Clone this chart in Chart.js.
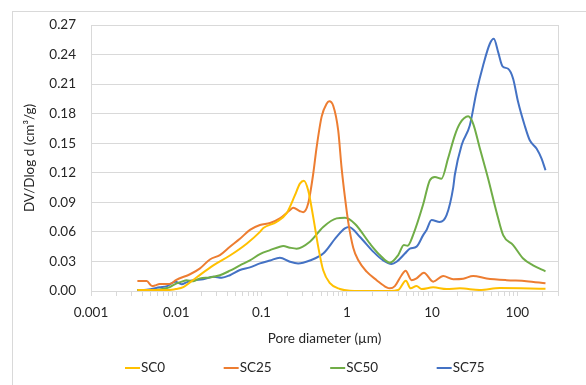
<!DOCTYPE html>
<html>
<head>
<meta charset="utf-8">
<script src="https://cdn.jsdelivr.net/npm/chart.js@4/dist/chart.umd.min.js"></script>
<style>
  html, body { margin: 0; padding: 0; background: #ffffff; }
  #wrap { width: 586px; height: 385px; position: relative; }
</style>
</head>
<body>
<div id="wrap"><canvas id="chart" width="586" height="385"></canvas></div>
<script>
// Pore size distribution (MIP): DV/Dlog d against pore diameter in µm
const seriesNames = ['SC0', 'SC25', 'SC50', 'SC75'];
const seriesColors = ['#FFC000', '#ED7D31', '#70AD47', '#4472C4'];

const sc0Diameter = [0.0035, 0.0055, 0.0075, 0.0088, 0.0099, 0.0121, 0.0174, 0.0272, 0.0426, 0.0669,
  0.0958, 0.105, 0.150, 0.197, 0.246, 0.282, 0.314, 0.353, 0.404, 0.462,
  0.529, 0.634, 0.830, 1.09, 2.0, 3.2, 4.0, 4.93, 5.60, 6.58,
  7.53, 10.3, 14.8, 21.2, 36.4, 62.4, 214];
const sc0Values = [0.001, 0.001, 0.001, 0.0013, 0.002, 0.004, 0.014, 0.026, 0.036, 0.048,
  0.060, 0.064, 0.070, 0.079, 0.097, 0.109, 0.112, 0.102, 0.075, 0.045,
  0.021, 0.008, 0.002, 0.0003, 0, 0, 0.001, 0.0105, 0.0027, 0.005,
  0.002, 0.0037, 0.002, 0.0027, 0.001, 0.003, 0.0023];

const sc25Diameter = [0.0035, 0.0045, 0.0052, 0.0056, 0.0064, 0.0078, 0.0089, 0.0099, 0.0145, 0.0190,
  0.0248, 0.0325, 0.0426, 0.0558, 0.0731, 0.0958, 0.126, 0.164, 0.215, 0.235,
  0.282, 0.308, 0.353, 0.404, 0.443, 0.507, 0.580, 0.622, 0.693, 0.793,
  0.869, 0.950, 1.04, 1.19, 1.36, 1.71, 2.24, 2.93, 3.20, 3.66,
  4.39, 4.89, 5.75, 6.58, 8.02, 10.3, 13.5, 17.7, 23.2, 30.3,
  43.6, 74.7, 128, 214];
const sc25Values = [0.0101, 0.0101, 0.005, 0.0055, 0.007, 0.007, 0.008, 0.011, 0.017, 0.023,
  0.032, 0.0365, 0.045, 0.053, 0.062, 0.067, 0.069, 0.0737, 0.082, 0.0844,
  0.081, 0.080, 0.089, 0.119, 0.146, 0.177, 0.190, 0.1925, 0.188, 0.163,
  0.125, 0.0955, 0.070, 0.044, 0.0314, 0.0196, 0.011, 0.0037, 0.0027, 0.005,
  0.016, 0.0206, 0.011, 0.0128, 0.0186, 0.0095, 0.0152, 0.012, 0.0125, 0.0152,
  0.0128, 0.011, 0.010, 0.0078];

const sc50Diameter = [0.0035, 0.0055, 0.0064, 0.0078, 0.0084, 0.0101, 0.0116, 0.0132, 0.0158, 0.0190,
  0.0248, 0.0325, 0.0426, 0.0558, 0.0731, 0.0958, 0.126, 0.164, 0.180, 0.215,
  0.258, 0.369, 0.529, 0.759, 0.950, 1.25, 1.87, 2.44, 3.20, 4.01,
  4.67, 5.16, 6.00, 7.87, 9.42, 10.8, 12.9, 15.4, 18.5, 21.2,
  26.5, 30.3, 36.4, 45.5, 57.1, 68.2, 89.3, 117, 153, 214];
const sc50Values = [0.001, 0.001, 0.0015, 0.003, 0.004, 0.0078, 0.0095, 0.011, 0.010, 0.0128,
  0.0138, 0.016, 0.0206, 0.026, 0.031, 0.0375, 0.0415, 0.045, 0.0456, 0.044,
  0.043, 0.050, 0.065, 0.0737, 0.0743, 0.068, 0.048, 0.0365, 0.0287, 0.0365,
  0.0466, 0.046, 0.057, 0.088, 0.1125, 0.1158, 0.114, 0.1345, 0.158, 0.170,
  0.1773, 0.170, 0.1446, 0.114, 0.080, 0.0567, 0.0466, 0.033, 0.026, 0.020];

const sc75Diameter = [0.0035, 0.0045, 0.0064, 0.0078, 0.0097, 0.0116, 0.0132, 0.0158, 0.0207, 0.0272,
  0.0341, 0.0426, 0.0558, 0.0731, 0.0958, 0.126, 0.164, 0.215, 0.269, 0.369,
  0.529, 0.759, 0.950, 1.06, 1.42, 2.04, 2.67, 3.35, 3.84, 4.80,
  5.49, 6.58, 7.87, 8.62, 9.87, 12.3, 14.8, 17.7, 18.5, 22.2,
  27.7, 33.2, 39.7, 47.6, 53.0, 59.6, 67.1, 78.0, 89.3, 102,
  122, 140, 168, 192, 214];
const sc75Values = [0.001, 0.0013, 0.0037, 0.005, 0.0095, 0.0068, 0.0088, 0.011, 0.0118, 0.0145,
  0.0135, 0.016, 0.0213, 0.024, 0.028, 0.031, 0.0337, 0.0297, 0.028, 0.031,
  0.038, 0.055, 0.0635, 0.065, 0.055, 0.040, 0.031, 0.0274, 0.0297, 0.038,
  0.043, 0.045, 0.0567, 0.062, 0.072, 0.070, 0.077, 0.105, 0.118, 0.148,
  0.168, 0.202, 0.229, 0.251, 0.256, 0.2425, 0.228, 0.2256, 0.2155, 0.192,
  0.168, 0.153, 0.1446, 0.1345, 0.1226];

const xLabelValues = [0.001, 0.01, 0.1, 1, 10, 100];
const xLabelTexts = ['0.001', '0.01', '0.1', '1', '10', '100'];
const yTickValues = [0, 0.03, 0.06, 0.09, 0.12, 0.15, 0.18, 0.21, 0.24, 0.27];

const xTitle = 'Pore diameter (µm)';
const yTitle = 'DV/Dlog d (cm³/g)';

const FONT = 'Lato, "Open Sans", sans-serif';
const TEXT = '#262626';
const GRID = '#d9d9d9';

// tick marks at 1..9 × each decade across the axis range
const X_MIN = 0.001, X_MAX = 300;
const xTickValues = [];
for (let e = -3; e <= 2; e++) {
  for (let m = 1; m <= 9; m++) {
    const v = Number((m * Math.pow(10, e)).toPrecision(3));
    if (v <= X_MAX) xTickValues.push(v);
  }
}

function toPoints(xs, ys) {
  return xs.map((x, i) => ({ x: x, y: ys[i] }));
}
const seriesData = [
  toPoints(sc0Diameter, sc0Values),
  toPoints(sc25Diameter, sc25Values),
  toPoints(sc50Diameter, sc50Values),
  toPoints(sc75Diameter, sc75Values)
];

const frame = {
  id: 'frame',
  beforeDatasetsDraw(chart) {
    const { ctx, chartArea: a } = chart;
    ctx.save();
    ctx.strokeStyle = GRID;
    ctx.lineWidth = 1;
    ctx.strokeRect(Math.round(a.left) + 0.5, Math.round(a.top) + 0.5,
      Math.round(a.right - a.left), Math.round(a.bottom - a.top));
    ctx.restore();
  },
  afterDraw(chart) {
    const ctx = chart.ctx;
    ctx.save();
    // outer chart border
    ctx.strokeStyle = GRID;
    ctx.lineWidth = 1;
    ctx.strokeRect(12.5, 11.5, 620, 420);
    // legend row
    ctx.font = '13.5px ' + FONT;
    ctx.textBaseline = 'middle';
    ctx.textAlign = 'left';
    const y = 368;
    const lineLen = 15, gap = 58.5;
    let x = 125;
    chart.data.datasets.forEach(ds => {
      ctx.strokeStyle = ds.borderColor;
      ctx.lineWidth = 2;
      ctx.beginPath();
      ctx.moveTo(x, y);
      ctx.lineTo(x + lineLen, y);
      ctx.stroke();
      ctx.fillStyle = TEXT;
      ctx.fillText(ds.label, x + lineLen + 1, y);
      x += lineLen + 1 + ctx.measureText(ds.label).width + gap;
    });
    ctx.restore();
  }
};

new Chart(document.getElementById('chart'), {
  type: 'line',
  data: {
    datasets: seriesNames.map((name, i) => ({
      label: name,
      data: seriesData[i],
      borderColor: seriesColors[i],
      backgroundColor: seriesColors[i],
      borderWidth: 2,
      pointRadius: 0,
      fill: false,
      cubicInterpolationMode: 'monotone'
    }))
  },
  options: {
    responsive: false,
    animation: false,
    devicePixelRatio: 1,
    layout: { padding: { left: 0, right: 28, top: 25, bottom: 38 } },
    plugins: { legend: { display: false }, tooltip: { enabled: false } },
    scales: {
      x: {
        type: 'logarithmic',
        min: X_MIN,
        max: X_MAX,
        afterBuildTicks: s => { s.ticks = xTickValues.map(v => ({ value: v })); },
        afterFit: s => { s.height = 56; },
        grid: { drawOnChartArea: false, drawTicks: true, tickLength: 5, color: GRID },
        border: { display: false },
        ticks: {
          autoSkip: false,
          maxRotation: 0,
          padding: 9,
          color: TEXT,
          font: { family: FONT, size: 13.5 },
          callback: v => {
            const k = xLabelValues.findIndex(t => Math.abs(t - v) / t < 1e-6);
            return k >= 0 ? xLabelTexts[k] : '';
          }
        },
        title: {
          display: true,
          text: xTitle,
          color: TEXT,
          font: { family: FONT, size: 13.5 },
          padding: { top: 0, bottom: 0 }
        }
      },
      y: {
        min: 0,
        max: 0.27,
        afterBuildTicks: s => { s.ticks = yTickValues.map(v => ({ value: v })); },
        afterFit: s => { s.width = 91; },
        grid: { color: GRID, drawTicks: false, lineWidth: 1 },
        border: { display: false },
        ticks: {
          padding: 15,
          color: TEXT,
          font: { family: FONT, size: 13.5 },
          callback: v => Number(v).toFixed(2)
        },
        title: {
          display: true,
          text: yTitle,
          color: TEXT,
          font: { family: FONT, size: 13.5 },
          padding: { top: 22, bottom: 0 }
        }
      }
    }
  },
  plugins: [frame]
});
</script>
</body>
</html>
